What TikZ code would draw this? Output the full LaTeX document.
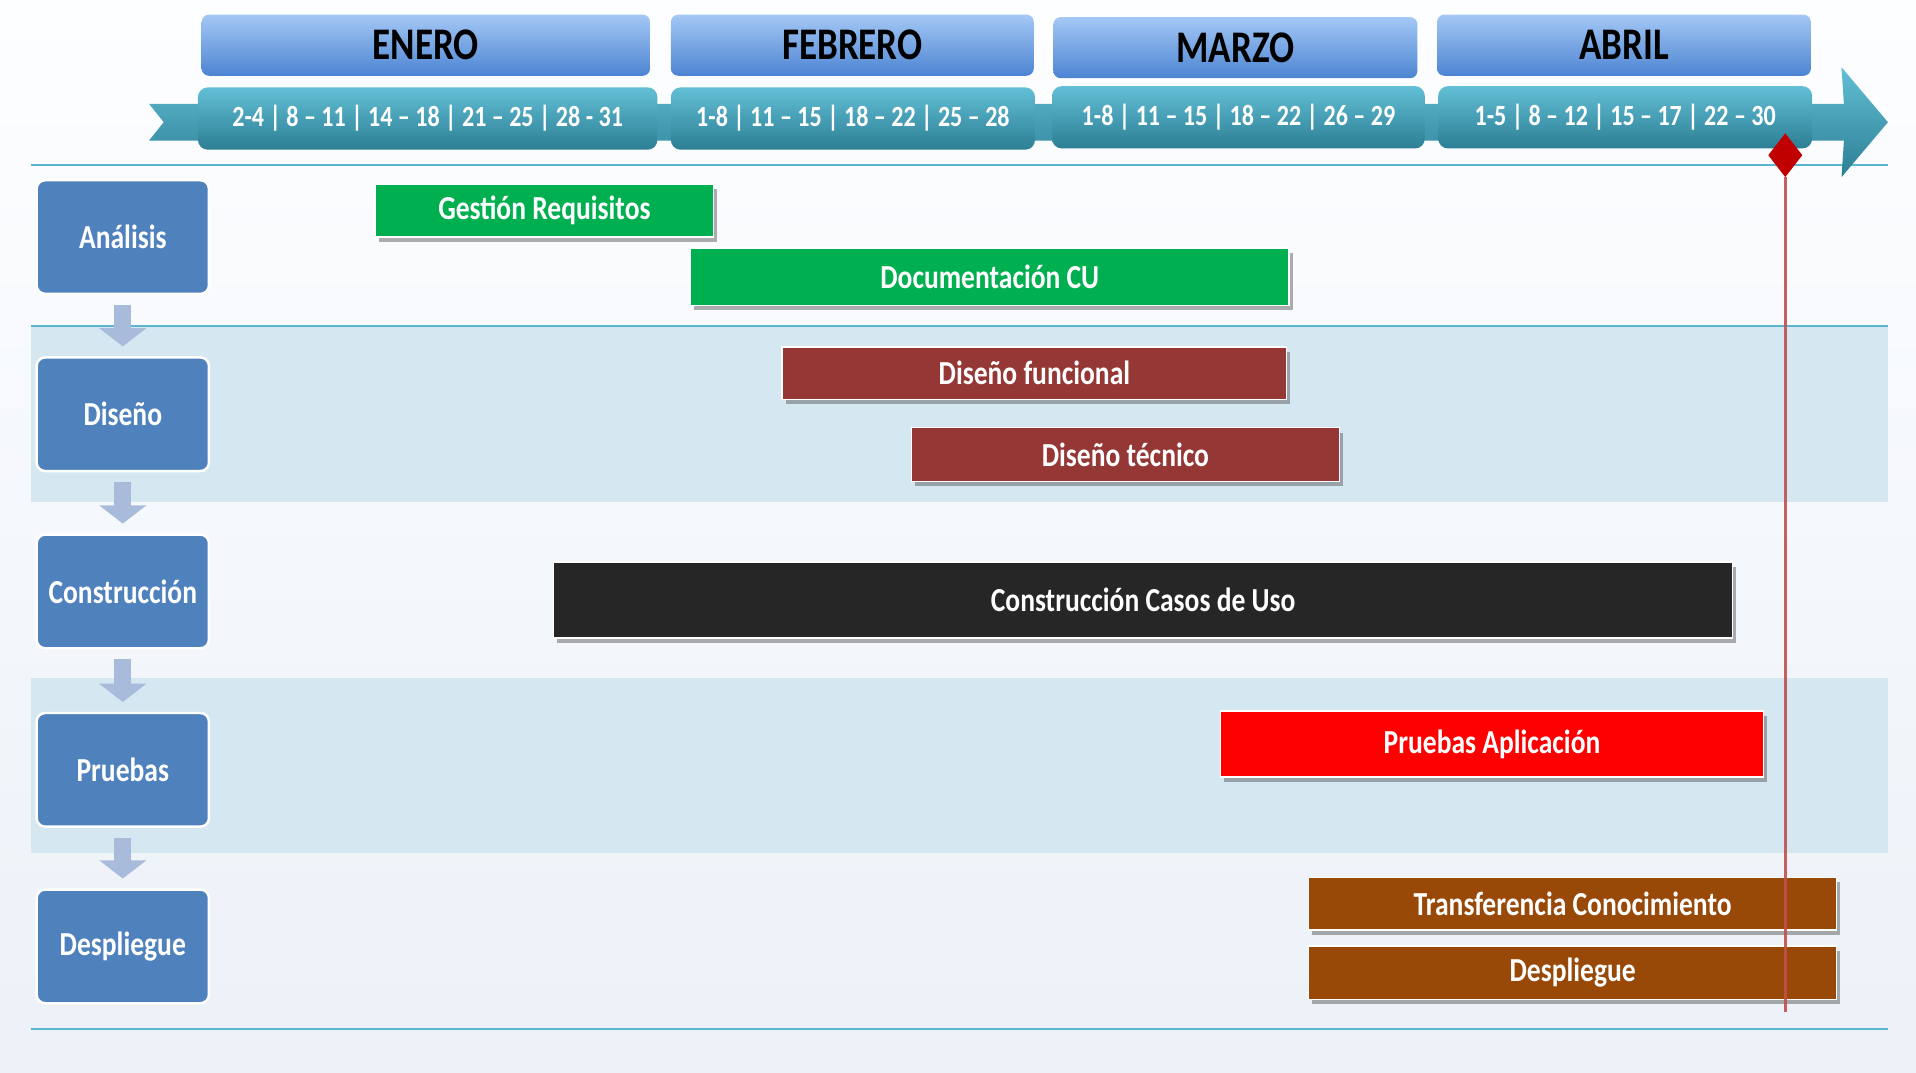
\documentclass[tikz,border=0pt]{standalone}
\usepackage{fontspec}
\setmainfont{Carlito}[FakeStretch=0.82]
\usetikzlibrary{shapes.geometric,arrows.meta,shadows}

\definecolor{bgtop}{HTML}{FDFEFF}
\definecolor{bgbot}{HTML}{ECF1F8}
\definecolor{band}{HTML}{D5E8F2}
\definecolor{rule}{HTML}{5BB6CD}
\definecolor{phase}{HTML}{4F81BD}
\definecolor{downarr}{HTML}{A9BBDA}
\definecolor{monthtop}{HTML}{A4C8F5}
\definecolor{monthbot}{HTML}{4C84D2}
\definecolor{datetop}{HTML}{62BFD5}
\definecolor{datebot}{HTML}{2C7E94}
\definecolor{verde}{HTML}{00B050}
\definecolor{granate}{HTML}{953735}
\definecolor{negro}{HTML}{262626}
\definecolor{rojo}{HTML}{FF0000}
\definecolor{marron}{HTML}{984807}
\definecolor{hoy}{HTML}{C0504D}
\definecolor{hoydiam}{HTML}{C00000}

\newcommand{\monthfont}{\fontsize{37}{40}\selectfont\bfseries}
\newcommand{\datefont}{\fontsize{24}{26}\selectfont\bfseries}
\newcommand{\phasefont}{\fontsize{27.5}{30}\selectfont\bfseries}
\newcommand{\barfont}{\fontsize{27.5}{30}\selectfont\bfseries}

\begin{document}
\begin{tikzpicture}[x=1pt,y=-1pt,>=Stealth,
    month/.style={rounded corners=6pt, top color=monthtop, bottom color=monthbot,
        minimum height=50pt, inner sep=0pt, font=\monthfont, text=black},
    datebox/.style={rounded corners=8pt, top color=datetop, bottom color=datebot,
        minimum height=51pt, inner sep=0pt, font=\datefont, text=white},
    phasebox/.style={rounded corners=7pt, fill=phase, draw=white, line width=2pt,
        minimum width=141pt, minimum height=93pt, inner sep=0pt, font=\phasefont, text=white},
    task/.style={draw=white, line width=1.2pt, inner sep=0pt, font=\barfont, text=white,
        drop shadow={shadow xshift=3pt, shadow yshift=-4pt, opacity=0.45, fill=black!70}},
    flow/.style={draw=downarr, line width=14pt, shorten <=8pt, shorten >=8pt,
        -{Triangle[width=38pt,length=15pt]}}]

\useasboundingbox (0,0) rectangle (1568,878);

%the background
    \shade[top color=bgtop, bottom color=bgbot] (0,0) rectangle (1568,878);
    \fill[band] (25,268) rectangle (1545,411);
    \fill[band] (25,555) rectangle (1545,698);
    \draw[rule, line width=1.3pt] (25,135) -- (1545,135);
    \draw[rule, line width=1.3pt] (25,267) -- (1545,267);
    \draw[rule, line width=1.3pt] (25,842) -- (1545,842);

%the time line
    \shade[top color=datetop, bottom color=datebot]
        (122,85) -- (1509,85) -- (1507,55) -- (1545,100) -- (1507,145) -- (1509,115) -- (122,115) -- (134,100) -- cycle;

    \node[month, minimum width=367pt] (ene) at (348.5,37) {ENERO};
    \node[month, minimum width=297pt] (feb) at (697.5,37) {FEBRERO};
    \node[month, minimum width=298pt] (mar) at (1011,39) {MARZO};
    \node[month, minimum width=306pt] (abr) at (1329,37) {ABRIL};

    \node[datebox, minimum width=376pt] (dene) at (350,97) {2-4 | 8 – 11 | 14 – 18 | 21 – 25 | 28 - 31};
    \node[datebox, minimum width=298pt] (dfeb) at (698,97) {1-8 | 11 – 15 | 18 – 22 | 25 – 28};
    \node[datebox, minimum width=305pt] (dmar) at (1013.5,96) {1-8 | 11 – 15 | 18 – 22 | 26 – 29};
    \node[datebox, minimum width=306pt] (dabr) at (1330,96) {1-5 | 8 – 12 | 15 – 17 | 22 – 30};

%the phases
    \node[phasebox] (ana) at (100.5,194) {Análisis};
    \node[phasebox] (dis) at (100.5,339) {Diseño};
    \node[phasebox] (con) at (100.5,484) {Construcción};
    \node[phasebox] (pru) at (100.5,630) {Pruebas};
    \node[phasebox] (des) at (100.5,774.5) {Despliegue};
    \foreach \a/\b in {ana/dis, dis/con, con/pru, pru/des}
        \draw[flow] (\a) -- (\b);

%the tasks
    \node[task, fill=verde, minimum width=277pt, minimum height=43pt] (greq) at (445.5,172.5) {Gestión Requisitos};
    \node[task, fill=verde, minimum width=490pt, minimum height=47pt] (dcu) at (810,226.5) {Documentación CU};
    \node[task, fill=granate, minimum width=413pt, minimum height=43pt] (dfun) at (846.5,305.5) {Diseño funcional};
    \node[task, fill=granate, minimum width=350pt, minimum height=44pt] (dtec) at (921,372) {Diseño técnico};
    \node[task, fill=negro, minimum width=965pt, minimum height=62pt] (ccu) at (935.5,491) {Construcción Casos de Uso};
    \node[task, fill=rojo, minimum width=444pt, minimum height=54pt] (papl) at (1221,609) {Pruebas Aplicación};
    \node[task, fill=marron, minimum width=432pt, minimum height=43pt] (tcon) at (1287,739.5) {Transferencia Conocimiento};
    \node[task, fill=marron, minimum width=432pt, minimum height=44pt] (desp) at (1287,796) {Despliegue};

%today marker
    \coordinate (fin) at (1461,828);
    \node[diamond, fill=hoydiam, minimum width=28pt, minimum height=36pt, inner sep=0pt] (hoy) at (1461,127) {};
    \draw[hoy, line width=2.6pt, opacity=0.9] (hoy.south) -- (fin);
\end{tikzpicture}
\end{document}
